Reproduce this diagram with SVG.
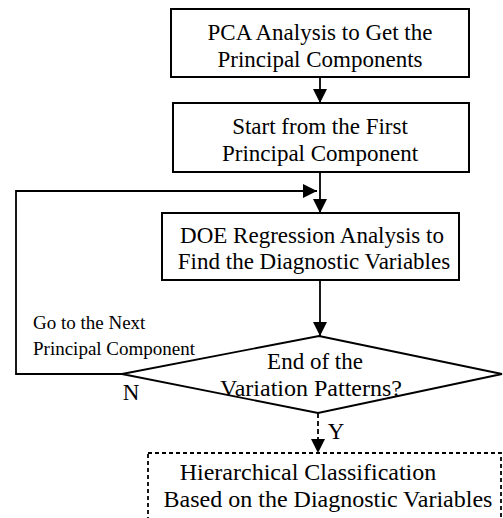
<svg xmlns="http://www.w3.org/2000/svg" width="503" height="518" viewBox="0 0 503 518">
<style>
.box{fill:#fff;stroke:#000;stroke-width:2}
.dash{fill:#fff;stroke:#000;stroke-width:1.8;stroke-dasharray:4 3}
.t{font-family:"Liberation Serif","Times New Roman",serif;font-size:23px;fill:#000;text-anchor:middle}
.b{font-size:24px}
.s{font-family:"Liberation Serif","Times New Roman",serif;font-size:19px;fill:#000}
.ln{fill:none;stroke:#000;stroke-width:1.8}
.ld{fill:none;stroke:#000;stroke-width:1.8;stroke-dasharray:5 3}
</style>
<defs>
<marker id="ah" viewBox="0 0 14 14" refX="14" refY="7" markerWidth="14" markerHeight="14" markerUnits="userSpaceOnUse" orient="auto">
<path d="M0,0 L14,7 L0,14 Z" fill="#000"/>
</marker>
</defs>
<g id="connectors">
<line class="ln" x1="320" y1="77" x2="320" y2="103" marker-end="url(#ah)"/>
<line class="ln" x1="320" y1="172" x2="320" y2="213" marker-end="url(#ah)"/>
<polyline class="ln" points="122,374 16,374 16,191 317,191" marker-end="url(#ah)"/>
<line class="ln" x1="320" y1="280" x2="320" y2="336" marker-end="url(#ah)"/>
<line class="ld" x1="318" y1="413" x2="318" y2="453" marker-end="url(#ah)"/>
</g>
<g id="n1">
<rect class="box" x="171" y="9" width="298" height="68"/>
<text class="t" x="320" y="40">PCA Analysis to Get the</text>
<text class="t" x="320" y="67">Principal Components</text>
</g>
<g id="n2">
<rect class="box" x="173" y="103" width="296" height="69"/>
<text class="t" x="320" y="134">Start from the First</text>
<text class="t" x="320" y="161">Principal Component</text>
</g>
<g id="n3">
<rect class="box" x="162" y="213" width="297" height="67"/>
<text class="t" x="312" y="243">DOE Regression Analysis to</text>
<text class="t" x="314" y="269">Find the Diagnostic Variables</text>
</g>
<g id="n4">
<polygon class="box" points="319,336 502,374 318,413 122,374" style="stroke-width:1.8"/>
<text class="t" x="315" y="369">End of the</text>
<text class="t b" x="311" y="396">Variation Patterns?</text>
</g>
<g id="n5">
<rect class="dash" x="148" y="453" width="353" height="80"/>
<text class="t b" x="308" y="480">Hierarchical Classification</text>
<text class="t b" x="328" y="507">Based on the Diagnostic Variables</text>
</g>
<g id="labels">
<text class="s" x="33" y="329">Go to the Next</text>
<text class="s" x="33" y="355">Principal Component</text>
<text class="t" x="131" y="400">N</text>
<text class="t" x="336" y="439">Y</text>
</g>
</svg>
